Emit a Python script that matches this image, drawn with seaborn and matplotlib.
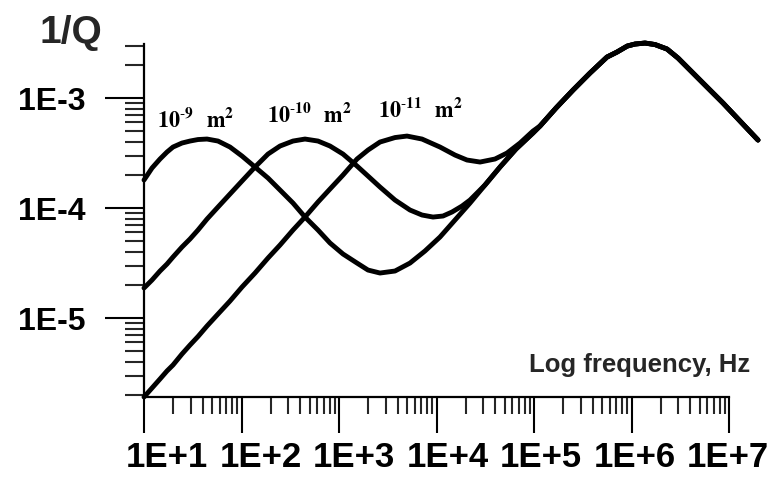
import numpy as np
import matplotlib
matplotlib.use('Agg')
import matplotlib.pyplot as plt
import matplotlib.transforms as mtrans
from matplotlib.ticker import FixedLocator, NullFormatter
import seaborn as sns

# values (frequency in Hz, attenuation 1/Q)
# shared high frequency part, all three curves merge here
freq_tail = [1.153e5, 1.681e5, 2.512e5, 3.753e5, 5.608e5, 7.100e5, 9.05e5, 1.086e6, 1.376e6,
             1.742e6, 2.313e6, 3.000e6, 3.981e6, 5.81e6, 8.68e6, 1.297e7, 1.984e7]
q_tail = [5.565e-4, 8.11e-4, 1.181e-3, 1.688e-3, 2.359e-3, 2.619e-3, 2.969e-3, 3.097e-3, 3.162e-3,
          3.064e-3, 2.790e-3, 2.310e-3, 1.797e-3, 1.285e-3, 9.01e-4, 6.18e-4, 4.15e-4]

# common frequency grid used while reading the low frequency part
freq_grid = [10, 12.08, 14.59, 17.21, 19.84, 24.53, 29.64, 35.80, 44.29, 57.41, 76.22, 101.2,
             137.6, 187.0, 248.3, 337.5, 448.0, 608.9, 808.5, 1099, 1530, 1984, 2633, 3753,
             5348, 7622, 10860, 15480, 22060, 31440, 44800, 65370, 97660]

# permeability 1e-9 m2
q_a = [1.797e-4, 2.310e-4, 2.790e-4, 3.228e-4, 3.586e-4, 3.899e-4, 4.065e-4, 4.195e-4, 4.239e-4,
       4.065e-4, 3.586e-4, 2.969e-4, 2.359e-4, 1.874e-4, 1.458e-4, 1.110e-4, 8.28e-5, 6.31e-5,
       4.81e-5, 3.82e-5, 3.16e-5, 2.73e-5, 2.565e-5, 2.675e-5, 3.16e-5, 4.07e-5, 5.45e-5, 7.78e-5,
       1.110e-4, 1.619e-4, 2.359e-4, 3.439e-4, 4.806e-4]

# permeability 1e-10 m2
freq_b = [10, 12.08, 14.59, 17.21, 19.84, 24.53, 29.64, 35.80, 44.29, 57.41, 76.22, 101.2,
          137.6, 187.0, 248.3, 337.5, 448.0, 608.9, 808.5, 1099, 1530, 1984, 2633, 3753,
          5348, 7100, 9206, 11660, 14420, 18260, 22060, 31440, 44800, 65370, 97660]
q_b = [1.874e-5, 2.215e-5, 2.675e-5, 3.096e-5, 3.586e-5, 4.42e-5, 5.23e-5, 6.31e-5, 7.94e-5,
       1.021e-4, 1.341e-4, 1.760e-4, 2.359e-4, 3.096e-4, 3.662e-4, 4.065e-4, 4.239e-4, 4.065e-4,
       3.662e-4, 3.096e-4, 2.409e-4, 1.953e-4, 1.552e-4, 1.182e-4, 9.59e-5, 8.64e-5, 8.28e-5,
       8.46e-5, 9.20e-5, 1.042e-4, 1.182e-4, 1.619e-4, 2.359e-4, 3.439e-4, 4.806e-4]

# permeability 1e-11 m2
freq_c = [10, 12.08, 14.59, 17.21, 19.84, 24.53, 29.64, 35.80, 44.29, 57.41, 76.22, 101.2,
          137.6, 187.0, 248.3, 337.5, 448.0, 608.9, 808.5, 1099, 1530, 1984, 2633, 3753,
          4983, 7100, 10860, 15480, 20550, 27950, 39810, 52850, 71850, 97660]
q_c = [1.913e-6, 2.310e-6, 2.790e-6, 3.300e-6, 3.740e-6, 4.707e-6, 5.68e-6, 6.79e-6, 8.46e-6,
       1.087e-5, 1.427e-5, 1.913e-5, 2.565e-5, 3.511e-5, 4.608e-5, 6.31e-5, 8.28e-5, 1.134e-4,
       1.489e-4, 1.995e-4, 2.790e-4, 3.367e-4, 3.981e-4, 4.373e-4, 4.512e-4, 4.239e-4, 3.586e-4,
       3.032e-4, 2.732e-4, 2.619e-4, 2.790e-4, 3.162e-4, 3.899e-4, 5.012e-4]

curve_labels = [r'$\mathbf{10^{\text{-}9}}$  $\mathbf{m^{2}}$',
                r'$\mathbf{10^{\text{-}10}}$  $\mathbf{m^{2}}$',
                r'$\mathbf{10^{\text{-}11}}$  $\mathbf{m^{2}}$']
label_pos = [(13.6, 5.45e-4), (183, 6.05e-4), (2512, 6.72e-4)]

x_ticks = [1e1, 1e2, 1e3, 1e4, 1e5, 1e6, 1e7]
x_ticklabels = ['1E+1', '1E+2', '1E+3', '1E+4', '1E+5', '1E+6', '1E+7']
y_ticks = [1e-5, 1e-4, 1e-3]
y_ticklabels = ['1E-5', '1E-4', '1E-3']

sns.set_style('white')
plt.rcParams['font.family'] = ['Liberation Sans', 'DejaVu Sans']
plt.rcParams['mathtext.fontset'] = 'stix'

fig = plt.figure(figsize=(7.74, 4.88), dpi=100)
ax = fig.add_axes([144 / 774, 91 / 488, 621 / 774, 353 / 488])

for fx, qy in [(freq_grid, q_a), (freq_b, q_b), (freq_c, q_c)]:
    xs = list(fx) + freq_tail
    ys = list(qy) + q_tail
    sns.lineplot(x=xs, y=ys, ax=ax, color='black', linewidth=3.5, sort=False,
                 estimator=None, clip_on=False, solid_joinstyle='round', solid_capstyle='round')

ax.set_xscale('log')
ax.set_yscale('log')
ax.set_xlim(10, 2.34e7)
ax.set_ylim(1.914e-6, 3.1e-3)

for s in ['top', 'right']:
    ax.spines[s].set_visible(False)
for s in ['left', 'bottom']:
    ax.spines[s].set_linewidth(1.6)
    ax.spines[s].set_color('black')
ax.spines['bottom'].set_bounds(10, 1e7)

# ticks
ax.xaxis.set_major_locator(FixedLocator(x_ticks))
ax.set_xticklabels(x_ticklabels)
x_minor = [m * 10.0 ** k for k in range(1, 7) for m in range(2, 10)]
ax.xaxis.set_minor_locator(FixedLocator(x_minor))
ax.xaxis.set_minor_formatter(NullFormatter())

ax.yaxis.set_major_locator(FixedLocator(y_ticks))
ax.set_yticklabels(y_ticklabels)
y_minor = [m * 10.0 ** k for k in range(-6, -2) for m in range(2, 10)]
y_minor = [v for v in y_minor if v <= 3.1e-3]
ax.yaxis.set_minor_locator(FixedLocator(y_minor))
ax.yaxis.set_minor_formatter(NullFormatter())

ax.tick_params(axis='x', which='major', direction='out', length=26, width=1.5, pad=6,
               labelsize=25, colors='black', bottom=True)
ax.tick_params(axis='x', which='minor', direction='out', length=12, width=1.5, bottom=True)
ax.tick_params(axis='y', which='major', direction='out', length=28, width=1.5, pad=14,
               labelsize=23, colors='black', left=True)
ax.tick_params(axis='y', which='minor', direction='out', length=14, width=1.5, left=True)
for lab in ax.get_xticklabels() + ax.get_yticklabels():
    lab.set_fontweight('bold')

# the x labels in the original are spaced a little tighter than the ticks
for i, lab in enumerate(ax.get_xticklabels()):
    dx = (23 - 4 * i) / 100
    lab.set_transform(lab.get_transform() + mtrans.ScaledTranslation(dx, 0, fig.dpi_scale_trans))

ax.grid(False)

for txt, (tx, ty) in zip(curve_labels, label_pos):
    ax.text(tx, ty, txt, fontsize=16, ha='left', va='baseline', color='black')

fig.text(40 / 774, 1 - 43 / 488, '1/Q', fontsize=28, fontweight='bold', ha='left', va='baseline')
fig.text(750 / 774, 1 - 372 / 488, 'Log frequency, Hz', fontsize=18.5, fontweight='bold',
         ha='right', va='baseline')

fig.savefig('out.png', dpi=100)
